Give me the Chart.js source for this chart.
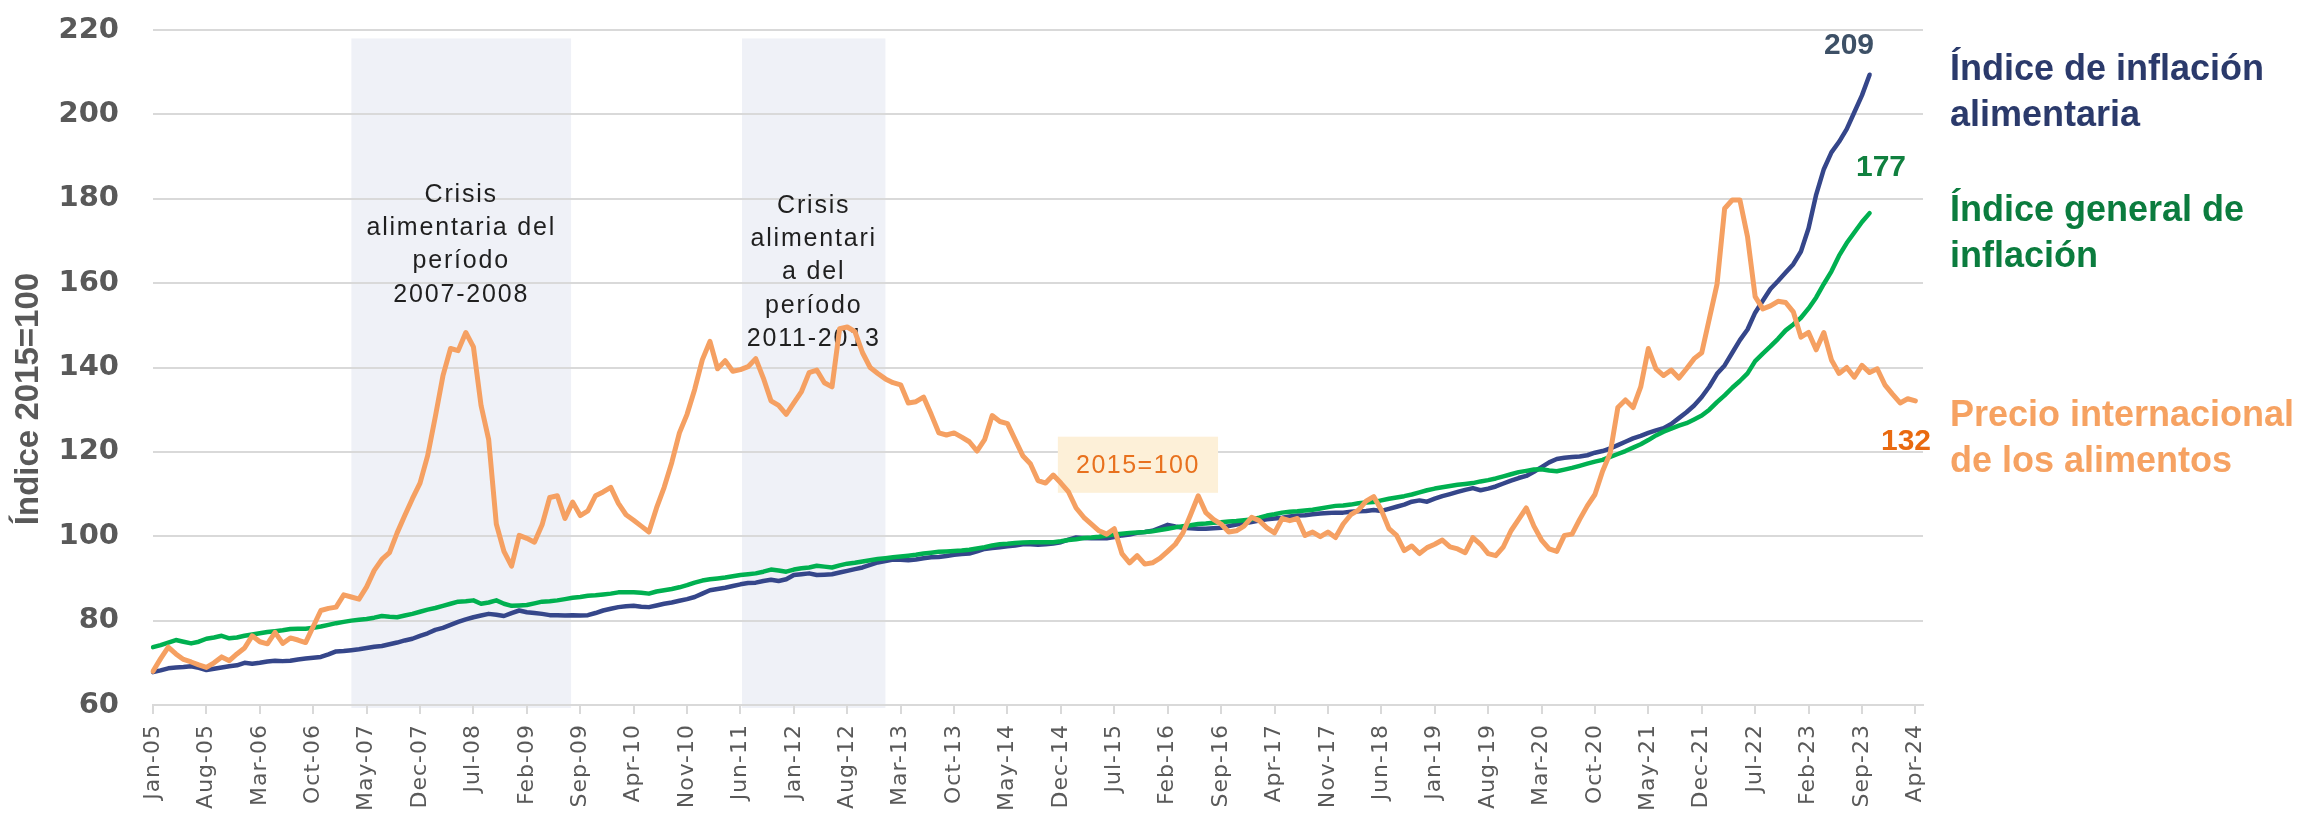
<!DOCTYPE html>
<html>
<head>
<meta charset="utf-8">
<script src="https://cdn.jsdelivr.net/npm/chart.js@4.4.1/dist/chart.umd.min.js"></script>
<style>
  html, body { margin: 0; padding: 0; background: #fff; }
</style>
</head>
<body>
<canvas id="chart" width="2297" height="825"></canvas>
<script>
// month categories Jan-05 .. Apr-24, plus one empty slot at the end
const MONTHS = ['Jan', 'Feb', 'Mar', 'Apr', 'May', 'Jun', 'Jul', 'Aug', 'Sep', 'Oct', 'Nov', 'Dec'];
const START_YEAR = 2005;
const N_SLOTS = 233;

// labels actually shown on the x axis
const TICK_LABELS = ['Jan-05', 'Aug-05', 'Mar-06', 'Oct-06', 'May-07', 'Dec-07', 'Jul-08', 'Feb-09',
  'Sep-09', 'Apr-10', 'Nov-10', 'Jun-11', 'Jan-12', 'Aug-12', 'Mar-13', 'Oct-13', 'May-14', 'Dec-14',
  'Jul-15', 'Feb-16', 'Sep-16', 'Apr-17', 'Nov-17', 'Jun-18', 'Jan-19', 'Aug-19', 'Mar-20', 'Oct-20',
  'May-21', 'Dec-21', 'Jul-22', 'Feb-23', 'Sep-23', 'Apr-24'];

// Precio internacional de los alimentos (Jan-05 .. Apr-24)
const foodPrice = [
  68.0, 71.0, 73.7, 72.1, 70.8, 70.2, 69.5, 68.9, 70.0, 71.4,
  70.5, 72.1, 73.5, 76.4, 75.0, 74.5, 77.2, 74.6, 75.9, 75.4,
  74.8, 78.6, 82.4, 82.9, 83.2, 86.1, 85.6, 85.1, 88.0, 91.9,
  94.5, 96.1, 100.8, 104.9, 108.9, 112.6, 119.1, 128.3, 138.0, 144.5,
  144.0, 148.3, 144.9, 131.0, 122.9, 102.9, 96.4, 92.9, 100.2, 99.5,
  98.6, 102.7, 109.2, 109.6, 104.2, 108.1, 104.9, 106.0, 109.6, 110.5,
  111.6, 107.8, 105.1, 103.8, 102.4, 101.0, 106.7, 111.6, 117.5, 124.5,
  128.9, 134.8, 141.8, 146.2, 139.7, 141.6, 139.1, 139.5, 140.2, 142.1,
  137.5, 132.1, 131.0, 128.9, 131.6, 134.3, 138.8, 139.4, 136.4, 135.4,
  149.2, 149.6, 148.5, 143.5, 140.0, 138.6, 137.3, 136.4, 135.9, 131.6,
  131.9, 133.0, 128.9, 124.5, 124.0, 124.5, 123.5, 122.4, 120.2, 122.9,
  128.6, 127.2, 126.7, 122.9, 119.1, 117.2, 113.2, 112.6, 114.5, 112.6,
  110.5, 106.7, 104.5, 102.9, 101.3, 100.5, 101.8, 95.9, 93.7, 95.4,
  93.4, 93.7, 94.8, 96.4, 98.1, 100.8, 105.1, 109.6, 105.6, 104.0,
  102.9, 101.0, 101.3, 102.4, 104.5, 103.7, 102.0, 100.8, 104.2, 103.7,
  104.2, 100.2, 101.0, 99.9, 101.0, 99.7, 102.9, 105.1, 106.2, 108.3,
  109.4, 106.2, 101.8, 100.2, 96.6, 97.7, 95.9, 97.3, 98.1, 99.1,
  97.5, 97.0, 96.1, 99.7, 98.1, 95.9, 95.4, 97.5, 101.3, 104.0,
  106.7, 102.4, 99.1, 97.0, 96.4, 100.2, 100.5, 104.0, 107.2, 109.9,
  115.4, 119.7, 130.5, 132.3, 130.5, 135.4, 144.5, 139.7, 138.1, 139.4,
  137.5, 139.7, 142.1, 143.5, 151.6, 159.7, 177.7, 179.7, 179.7, 171.0,
  156.8, 153.9, 154.6, 155.7, 155.4, 153.2, 147.2, 148.3, 144.2, 148.3,
  141.8, 138.6, 140.0, 137.7, 140.5, 138.8, 139.7, 135.9, 133.7, 131.6,
  132.6, 132.1
];

// Índice de inflación alimentaria (Jan-05 .. Oct-23)
const foodInflation = [
  67.8, 68.2, 68.7, 68.9, 69.0, 69.2, 68.8, 68.3, 68.6, 68.9, 69.2,
  69.4, 70.0, 69.8, 70.0, 70.3, 70.5, 70.4, 70.5, 70.8, 71.0,
  71.2, 71.4, 72.0, 72.7, 72.8, 73.0, 73.2, 73.5, 73.8, 74.0,
  74.4, 74.8, 75.3, 75.7, 76.4, 77.0, 77.8, 78.3, 79.0, 79.7,
  80.3, 80.8, 81.2, 81.6, 81.4, 81.1, 81.8, 82.4, 82.0, 81.8,
  81.6, 81.3, 81.3, 81.2, 81.3, 81.2, 81.3, 81.8, 82.4, 82.8,
  83.2, 83.4, 83.5, 83.3, 83.2, 83.6, 84.0, 84.3, 84.7, 85.1,
  85.6, 86.4, 87.2, 87.5, 87.8, 88.2, 88.6, 88.9, 89.0, 89.4,
  89.7, 89.4, 89.8, 90.8, 91.0, 91.2, 90.8, 90.9, 91.0, 91.4,
  91.8, 92.2, 92.6, 93.2, 93.8, 94.1, 94.5, 94.4, 94.3, 94.5,
  94.8, 95.0, 95.1, 95.3, 95.6, 95.8, 95.9, 96.4, 97.0, 97.2,
  97.4, 97.6, 97.8, 98.1, 98.1, 98.0, 98.1, 98.3, 98.6, 99.2,
  99.7, 99.6, 99.5, 99.5, 99.5, 99.8, 100.2, 100.4, 100.8, 101.0,
  101.3, 102.0, 102.7, 102.3, 102.0, 101.9, 101.8, 101.8, 101.9, 102.0,
  102.4, 102.8, 103.1, 103.4, 103.7, 104.0, 104.2, 104.4, 104.7, 104.9,
  105.0, 105.2, 105.4, 105.5, 105.6, 105.6, 105.8, 105.9, 106.0, 106.2,
  106.0, 106.5, 107.0, 107.5, 108.2, 108.5, 108.2, 108.9, 109.5, 110.0,
  110.5, 111.0, 111.4, 110.9, 111.3, 111.8, 112.5, 113.2, 113.8, 114.3,
  115.3, 116.4, 117.5, 118.3, 118.6, 118.8, 118.9, 119.2, 119.8, 120.2,
  120.8, 121.6, 122.4, 123.2, 123.8, 124.5, 125.1, 125.6, 126.6, 128.0,
  129.4, 131.0, 133.0, 135.5, 138.5, 140.5, 143.5, 146.5, 149.0, 153.0,
  155.8, 158.6, 160.5, 162.5, 164.5, 167.5, 173.0, 181.0, 187.0, 191.0,
  193.5, 196.5, 200.5, 204.5, 209.4
];

// Índice general de inflación (Jan-05 .. Oct-23)
const generalInflation = [
  73.7, 74.2, 74.8, 75.4, 75.0, 74.6, 75.0, 75.7, 76.0, 76.4, 75.8,
  76.0, 76.4, 76.7, 77.0, 77.3, 77.5, 77.7, 78.0, 78.1, 78.1,
  78.3, 78.6, 79.0, 79.4, 79.7, 80.0, 80.2, 80.4, 80.7, 81.1,
  80.9, 80.8, 81.2, 81.6, 82.1, 82.6, 83.0, 83.5, 84.0, 84.5,
  84.6, 84.8, 84.0, 84.3, 84.8, 84.0, 83.5, 83.6, 83.7, 84.1,
  84.5, 84.6, 84.8, 85.1, 85.4, 85.6, 85.9, 86.0, 86.2, 86.4,
  86.7, 86.7, 86.7, 86.6, 86.4, 86.9, 87.2, 87.5, 87.9, 88.4,
  89.0, 89.5, 89.8, 90.0, 90.2, 90.5, 90.8, 91.0, 91.2, 91.6,
  92.1, 91.9, 91.6, 92.1, 92.4, 92.6, 93.0, 92.8, 92.6, 93.1,
  93.5, 93.7, 94.0, 94.3, 94.6, 94.8, 95.0, 95.2, 95.4, 95.6,
  95.9, 96.1, 96.3, 96.4, 96.5, 96.6, 96.8, 97.1, 97.4, 97.8,
  98.1, 98.2, 98.4, 98.5, 98.6, 98.6, 98.6, 98.6, 98.8, 99.1,
  99.3, 99.6, 99.7, 99.9, 100.2, 100.4, 100.6, 100.8, 100.9, 101.0,
  101.2, 101.5, 101.8, 102.1, 102.4, 102.6, 102.9, 103.0, 103.2, 103.3,
  103.5, 103.6, 103.8, 104.0, 104.4, 104.9, 105.2, 105.6, 105.8, 105.9,
  106.1, 106.3, 106.6, 106.9, 107.2, 107.3, 107.5, 107.8, 108.0, 108.1,
  108.5, 108.9, 109.2, 109.5, 109.9, 110.4, 110.9, 111.3, 111.6, 111.9,
  112.2, 112.4, 112.6, 113.0, 113.3, 113.7, 114.2, 114.7, 115.2, 115.5,
  115.8, 115.9, 115.6, 115.4, 115.8, 116.2, 116.7, 117.2, 117.7, 118.1,
  118.8, 119.5, 120.2, 121.0, 121.8, 122.8, 123.9, 124.8, 125.5, 126.2,
  126.8, 127.7, 128.6, 130.0, 131.8, 133.4, 135.2, 136.8, 138.6, 141.5,
  143.3, 145.0, 146.8, 148.8, 150.2, 151.8, 154.0, 156.6, 159.8, 162.8,
  166.5, 169.5, 172.0, 174.5, 176.6
];

// shaded crisis periods, as month indexes (start, end)
const crisisSpans = [[26, 54.8], [77.2, 96]];
const crisisTexts = [
  ['Crisis', 'alimentaria del', 'período', '2007-2008'],
  ['Crisis', 'alimentari', 'a del', 'período', '2011-2013']
];
const endValues = ['209', '177', '132'];
const seriesNames = [
  ['Índice de inflación', 'alimentaria'],
  ['Índice general de', 'inflación'],
  ['Precio internacional', 'de los alimentos']
];
const yTitle = 'Índice 2015=100';

const labels = [];
for (let i = 0; i < N_SLOTS; i++) {
  const yy = String((START_YEAR + Math.floor(i / 12)) % 100).padStart(2, '0');
  labels.push(i < 232 ? MONTHS[i % 12] + '-' + yy : '');
}

const annotations = {
  id: 'annotations',
  beforeDraw(chart) {
    const { ctx, scales: { x, y } } = chart;
    // x tick labels are spaced out a little in the original
    if (!x._spaced) {
      const orig = x.drawLabels;
      x.drawLabels = function (area) {
        this.ctx.save();
        this.ctx.letterSpacing = '1px';
        orig.call(this, area);
        this.ctx.restore();
      };
      x._spaced = true;
    }
    ctx.save();
    ctx.fillStyle = '#eff1f7';
    const top = y.getPixelForValue(218);
    const bottom = y.getPixelForValue(59.3);
    crisisSpans.forEach(([a, b]) => {
      const x0 = x.getPixelForValue(a);
      const x1 = x.getPixelForValue(b);
      ctx.fillRect(x0, top, x1 - x0, bottom - top);
    });
    ctx.restore();
  },
  beforeDatasetsDraw(chart) {
    const { ctx, scales: { x, y } } = chart;
    ctx.save();
    ctx.letterSpacing = '1.8px';
    ctx.font = '25px "Liberation Sans", Arial, sans-serif';
    ctx.fillStyle = '#1f1f1f';
    ctx.textAlign = 'center';
    ctx.textBaseline = 'middle';
    const firstLine = [195, 206];
    crisisTexts.forEach((lines, k) => {
      const [a, b] = crisisSpans[k];
      const cx = (x.getPixelForValue(a) + x.getPixelForValue(b)) / 2;
      lines.forEach((t, i) => ctx.fillText(t, cx, firstLine[k] + i * 33.3));
    });

    // 2015=100 box
    const bx0 = x.getPixelForValue(118.6), bx1 = x.getPixelForValue(139.6);
    const by0 = y.getPixelForValue(123.6), by1 = y.getPixelForValue(110.3);
    ctx.fillStyle = '#fdf0d8';
    ctx.fillRect(bx0, by0, bx1 - bx0, by1 - by0);
    ctx.letterSpacing = '1.5px';
    ctx.fillStyle = '#e8711e';
    ctx.fillText('2015=100', (bx0 + bx1) / 2, (by0 + by1) / 2 + 1);
    ctx.restore();
  },
  afterDraw(chart) {
    const { ctx } = chart;
    ctx.save();
    // y axis title
    ctx.translate(29, 399);
    ctx.rotate(-Math.PI / 2);
    ctx.textAlign = 'center';
    ctx.textBaseline = 'middle';
    ctx.font = 'bold 33px "Liberation Sans", Arial, sans-serif';
    ctx.fillStyle = '#595959';
    ctx.fillText(yTitle, 0, 0);
    ctx.restore();

    ctx.save();
    ctx.textBaseline = 'middle';
    ctx.textAlign = 'center';
    ctx.font = 'bold 30px "Liberation Sans", Arial, sans-serif';
    ctx.fillStyle = '#3d5066';
    ctx.fillText(endValues[0], 1849, 46);
    ctx.fillStyle = '#10803f';
    ctx.fillText(endValues[1], 1881, 168);
    ctx.fillStyle = '#e96a10';
    ctx.fillText(endValues[2], 1906, 442);

    ctx.textAlign = 'left';
    ctx.textBaseline = 'alphabetic';
    ctx.font = 'bold 36px "Liberation Sans", Arial, sans-serif';
    const colors = ['#2b3a6b', '#0b7c3e', '#f6a262'];
    const baselines = [80, 221, 426];
    seriesNames.forEach((lines, k) => {
      ctx.fillStyle = colors[k];
      lines.forEach((t, i) => ctx.fillText(t, 1950, baselines[k] + i * 45.5));
    });
    ctx.restore();
  }
};

new Chart(document.getElementById('chart'), {
  type: 'line',
  data: {
    labels: labels,
    datasets: [
      {
        label: 'Precio internacional de los alimentos',
        data: foodPrice,
        borderColor: '#f5a062',
        borderWidth: 5
      },
      {
        label: 'Índice general de inflación',
        data: generalInflation,
        borderColor: '#00b050',
        borderWidth: 4.5
      },
      {
        label: 'Índice de inflación alimentaria',
        data: foodInflation,
        borderColor: '#35468a',
        borderWidth: 4.5
      }
    ]
  },
  options: {
    responsive: false,
    animation: false,
    devicePixelRatio: 1,
    layout: { padding: { top: 30, right: 374, left: 0, bottom: 0 } },
    elements: {
      point: { radius: 0 },
      line: { tension: 0, borderCapStyle: 'round', borderJoinStyle: 'round', fill: false }
    },
    plugins: {
      legend: { display: false },
      tooltip: { enabled: false }
    },
    scales: {
      x: {
        type: 'category',
        offset: false,
        afterFit: (s) => { s.height = 120; },
        grid: {
          drawOnChartArea: false,
          drawTicks: true,
          tickLength: 9,
          color: '#d9d9d9',
          lineWidth: 2
        },
        border: { display: true, color: '#d9d9d9', width: 2 },
        ticks: {
          autoSkip: false,
          minRotation: 90,
          maxRotation: 90,
          padding: 10,
          color: '#595959',
          font: { family: '"DejaVu Sans", sans-serif', size: 22 },
          callback: function (value, index) {
            const l = labels[index];
            return TICK_LABELS.includes(l) ? l : null;
          }
        }
      },
      y: {
        min: 60,
        max: 220,
        afterFit: (s) => { s.width = 153; },
        // invisible tick marks keep the labels away from the plot
        grid: { color: '#d9d9d9', lineWidth: 2, drawTicks: true, tickLength: 34, tickColor: 'rgba(0,0,0,0)' },
        border: { display: false },
        ticks: {
          stepSize: 20,
          padding: 0,
          color: '#595959',
          font: { family: '"DejaVu Sans", sans-serif', size: 29, weight: 'bold' }
        }
      }
    }
  },
  plugins: [annotations]
});
</script>
</body>
</html>
